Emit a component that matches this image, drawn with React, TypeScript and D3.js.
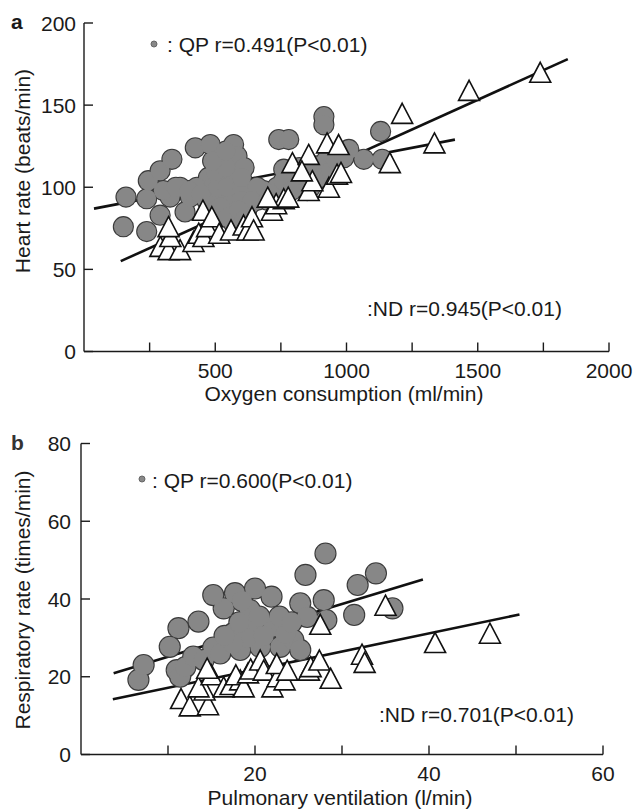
import React from 'react';
import * as d3 from 'd3';

// panel a: oxygen consumption (ml/min) vs heart rate (beats/min)
const qpHeartRate: [number, number][] = [
  [150, 76], [239, 73], [290, 83], [385, 85], [160, 94], [239, 93], [245, 104], [290, 110],
  [335, 117], [424, 124], [481, 126], [570, 126], [519, 118], [328, 94], [405, 94], [474, 106],
  [532, 106], [583, 119], [583, 98], [519, 94], [468, 92], [545, 88], [621, 98], [595, 80],
  [634, 90], [366, 100], [430, 100], [302, 98], [577, 76], [570, 78], [532, 82], [742, 129],
  [780, 129], [914, 143], [914, 138], [1130, 134], [1009, 123], [1066, 117], [1136, 117],
  [926, 117], [888, 113], [761, 111], [901, 106], [850, 106], [799, 104], [735, 100], [684, 98],
  [634, 96], [863, 100], [773, 96], [659, 92], [560, 110], [610, 112], [490, 100],
  [560, 90], [500, 86], [620, 86], [350, 100], [400, 98], [445, 96], [510, 100], [545, 100],
  [600, 100], [660, 100], [710, 96], [760, 104], [820, 102], [880, 104], [940, 110], [960, 116],
  [990, 118], [600, 92], [640, 92], [520, 88], [550, 82], [590, 86], [610, 80], [500, 110],
  [540, 112], [490, 116], [540, 122], [600, 106], [820, 112], [850, 98], [790, 98], [700, 92],
];
const ndHeartRate: [number, number][] = [
  [291, 64], [322, 62], [366, 62], [329, 70], [322, 76], [417, 67], [437, 72], [455, 70],
  [469, 76], [453, 86], [487, 82], [515, 72], [560, 74], [608, 77], [623, 74], [640, 82],
  [646, 74], [716, 86], [732, 90], [761, 93], [778, 94], [856, 98], [933, 100], [794, 115],
  [856, 120], [926, 127], [970, 126], [964, 108], [979, 109], [1165, 115], [1212, 145],
  [1335, 127], [1467, 159], [1738, 170], [870, 104], [700, 94], [830, 110],
];
const qpHeartRateFit: [number, number][] = [[38, 87], [1413, 129]];
const ndHeartRateFit: [number, number][] = [[140, 55], [1843, 178]];
const xTicksA = [250, 500, 750, 1000, 1250, 1500, 1750, 2000];
const xLabelsA = [500, 1000, 1500, 2000];
const yTicksA = [0, 50, 100, 150, 200];

// panel b: pulmonary ventilation (l/min) vs respiratory rate (times/min)
const qpRespRate: [number, number][] = [
  [6.6, 19.2], [7.2, 23], [10.2, 27.7], [11.2, 32.5], [13.5, 34.2], [16.4, 37.6], [15.2, 41],
  [17.7, 41.5], [20, 42.7], [21.9, 40.6], [19.4, 37.2], [18.5, 39.5],
  [11, 21.7], [11.4, 20], [12, 22.5], [12.9, 25.2], [14.1, 24.3], [15.2, 27.5], [16, 26],
  [17.5, 31.2], [18.3, 26.9], [19.8, 33.7], [20.6, 27.7], [22.1, 32.9], [22.9, 27.7],
  [24.4, 29.5], [25.2, 26.9], [19, 30], [21, 30.5], [23.5, 31], [20.5, 35.5], [22.8, 35.5],
  [17.5, 28.5], [16.5, 30.5], [18.2, 34],
  [25.2, 38.9], [27.9, 39.7], [28.2, 34.6], [26, 35.4], [25.8, 46.2], [28.1, 51.7],
  [31.4, 35.9], [31.8, 43.6], [33.9, 46.6], [35.8, 37.6], [24.2, 34],
];
const ndRespRate: [number, number][] = [
  [11.5, 14.4], [12.5, 12.5], [14.6, 12.8], [14.2, 16.6], [13.5, 17.4], [15, 20.5], [14.5, 22.2],
  [16.4, 17.4], [17.2, 18], [18.3, 19.2], [17.8, 20.5], [18.7, 17.4], [19.2, 21], [19.5, 22],
  [20.6, 24.3], [21, 21.7], [22, 17.4], [22.6, 20], [22.5, 23.4], [23.4, 19.2], [23.7, 21.7],
  [26.2, 21.7], [26.4, 22.6], [27.4, 24.3], [28.7, 19.6], [27.5, 33.5], [32.3, 25.8],
  [32.6, 23.7], [35, 38.4], [40.7, 28.8], [47, 31.2],
];
const qpRespRateFit: [number, number][] = [[3.75, 20.9], [39.3, 45]];
const ndRespRateFit: [number, number][] = [[3.66, 14.2], [50.4, 36]];
const xTicksB = [10, 20, 30, 40, 50, 60];
const xLabelsB = [20, 40, 60];
const yTicksB = [0, 20, 40, 60, 80];

const font = "'Liberation Sans', Arial, sans-serif";
const ink = '#1a1a1a';

type Props = {
  x: d3.ScaleLinear<number, number>;
  y: d3.ScaleLinear<number, number>;
  qp: [number, number][];
  nd: [number, number][];
  qpFit: [number, number][];
  ndFit: [number, number][];
  xTicks: number[];
  xLabels: number[];
  yTicks: number[];
  r: number;
  yLabelGap: number;
};

const Panel = ({ x, y, qp, nd, qpFit, ndFit, xTicks, xLabels, yTicks, r, yLabelGap }: Props) => {
  const line = d3.line<[number, number]>().x(d => x(d[0])).y(d => y(d[1]));
  const [x0, x1] = x.range();
  const [y0, y1] = y.range();
  const tri = (cx: number, cy: number) =>
    `M${cx},${cy - 10}L${cx + 10.5},${cy + 10}L${cx - 10.5},${cy + 10}Z`;
  return (
    <g>
      <path d={line(qpFit) || ''} stroke="#111" strokeWidth={2.6} fill="none" />
      <path d={line(ndFit) || ''} stroke="#111" strokeWidth={2.6} fill="none" />
      {/* outline pass then fill pass, so overlapping dots merge into one blob */}
      {qp.map((d, i) => (
        <circle key={'o' + i} cx={x(d[0])} cy={y(d[1])} r={r} fill="#3a3a3a" stroke="#3a3a3a" strokeWidth={2.2} />
      ))}
      {qp.map((d, i) => (
        <circle key={'c' + i} cx={x(d[0])} cy={y(d[1])} r={r} fill="#878787" />
      ))}
      {nd.map((d, i) => (
        <path key={'t' + i} d={tri(x(d[0]), y(d[1]))} fill="#fff" stroke="#111" strokeWidth={1.6} />
      ))}
      {/* axes */}
      <line x1={x0} x2={x1} y1={y0} y2={y0} stroke={ink} strokeWidth={1.4} />
      <line x1={x0} x2={x0} y1={y0} y2={y1} stroke={ink} strokeWidth={1.4} />
      {xTicks.map(t => (
        <line key={'xt' + t} x1={x(t)} x2={x(t)} y1={y0} y2={y0 - 9} stroke={ink} strokeWidth={1.4} />
      ))}
      {yTicks.map(t => (
        <line key={'yt' + t} x1={x0} x2={x0 + 9} y1={y(t)} y2={y(t)} stroke={ink} strokeWidth={1.4} />
      ))}
      {xLabels.map(t => (
        <text key={'xl' + t} x={x(t)} y={y0 + 26} textAnchor="middle" fontSize={21} fontFamily={font} fill={ink}>
          {t}
        </text>
      ))}
      {yTicks.map(t => (
        <text key={'yl' + t} x={x0 - yLabelGap} y={y(t)} dy="0.36em" textAnchor="end" fontSize={21} fontFamily={font} fill={ink}>
          {t}
        </text>
      ))}
    </g>
  );
};

export default function App() {
  const xA = d3.scaleLinear().domain([0, 2000]).range([84, 609]);
  const yA = d3.scaleLinear().domain([0, 200]).range([351.5, 23]);
  const xB = d3.scaleLinear().domain([0, 60]).range([81, 603]);
  const yB = d3.scaleLinear().domain([0, 80]).range([754.5, 443.5]);

  return (
    <svg width={634} height={811} style={{ position: 'absolute', left: 0, top: 0, background: '#fff' }}>
      <rect width={634} height={811} fill="#fff" />

      <Panel x={xA} y={yA} qp={qpHeartRate} nd={ndHeartRate} qpFit={qpHeartRateFit} ndFit={ndHeartRateFit}
        xTicks={xTicksA} xLabels={xLabelsA} yTicks={yTicksA} r={9.5} yLabelGap={8} />
      <text x={11} y={29} fontSize={21} fontWeight="bold" fontFamily={font} fill={ink}>a</text>
      <circle cx={154} cy={44} r={3} fill="#888" stroke="#666" />
      <text x={167} y={52} fontSize={21} fontFamily={font} fill={ink}>: QP r=0.491(P&lt;0.01)</text>
      <text x={367} y={316} fontSize={21} fontFamily={font} fill={ink}>:ND r=0.945(P&lt;0.01)</text>
      <text transform="translate(30,171) rotate(-90)" textAnchor="middle" fontSize={21} fontFamily={font} fill={ink}>
        Heart rate (beats/min)
      </text>
      <text x={344} y={401} textAnchor="middle" fontSize={21} fontFamily={font} fill={ink}>
        Oxygen consumption (ml/min)
      </text>

      <Panel x={xB} y={yB} qp={qpRespRate} nd={ndRespRate} qpFit={qpRespRateFit} ndFit={ndRespRateFit}
        xTicks={xTicksB} xLabels={xLabelsB} yTicks={yTicksB} r={10} yLabelGap={10} />
      <text x={11} y={450} fontSize={21} fontWeight="bold" fontFamily={font} fill="#333">b</text>
      <circle cx={142} cy={479} r={3} fill="#888" stroke="#666" />
      <text x={152} y={488} fontSize={21} fontFamily={font} fill={ink}>: QP r=0.600(P&lt;0.01)</text>
      <text x={379} y={722} fontSize={21} fontFamily={font} fill={ink}>:ND r=0.701(P&lt;0.01)</text>
      <text transform="translate(30,600) rotate(-90)" textAnchor="middle" fontSize={21} fontFamily={font} fill={ink}>
        Respiratory rate (times/min)
      </text>
      <text x={340} y={805} textAnchor="middle" fontSize={21} fontFamily={font} fill={ink}>
        Pulmonary ventilation (l/min)
      </text>
    </svg>
  );
}
